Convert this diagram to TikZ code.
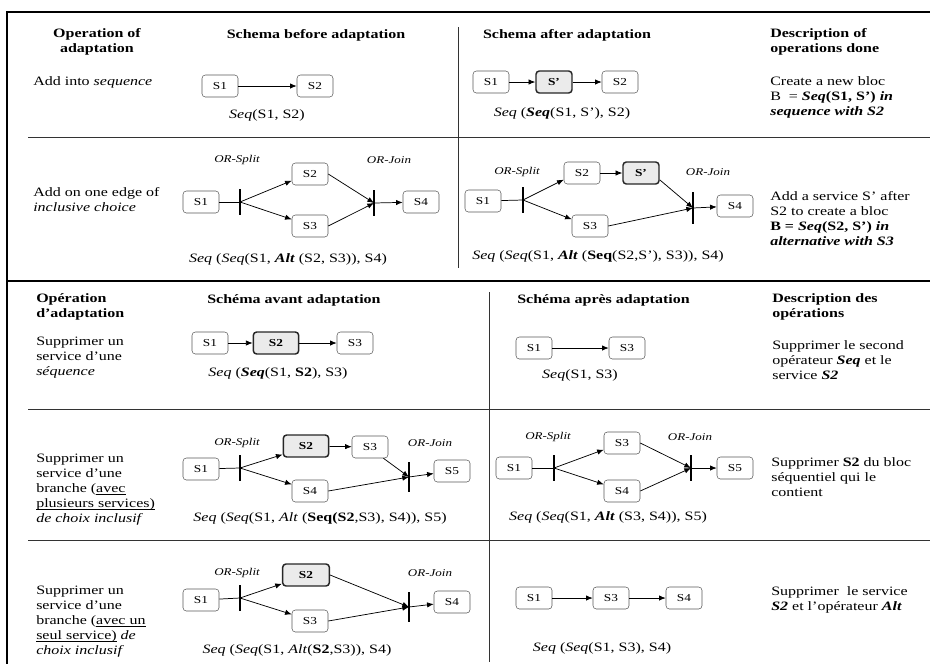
\documentclass[tikz,border=0pt]{standalone}
\usepackage{fontspec}
\setmainfont{Liberation Serif}[FakeStretch=1.25]
\usetikzlibrary{arrows.meta}

\tikzset{
  svc/.style={draw=black!65, rounded corners=2.5pt, minimum width=27pt, minimum height=16.5pt, inner sep=0pt, font=\fontsize{8}{9}\selectfont},
  svcnew/.style={svc, draw=black!85, line width=1.1pt, fill=black!8, font=\fontsize{8}{9}\selectfont\bfseries},
  orbar/.style={fill=black, minimum width=1.8pt, minimum height=19.5pt, inner sep=0pt},
  flow/.style={-{Latex[length=5pt,width=4pt]}, line width=0.55pt},
  link/.style={line width=0.55pt},
  orlbl/.style={inner sep=0pt, font=\fontsize{7.8}{9}\selectfont\itshape},
  txt/.style={anchor=west, align=left, inner sep=0pt, font=\fontsize{9.6}{11.25}\selectfont},
  hd/.style={txt, font=\fontsize{9.6}{11.25}\selectfont\bfseries},
  frm/.style={inner sep=0pt, font=\fontsize{9.6}{11.25}\selectfont},
  sepline/.style={line width=0.6pt, black!80},
  bigline/.style={line width=1.6pt}
}
\newcommand{\ulk}[1]{\underline{\smash{#1}}}

\begin{document}
\begin{tikzpicture}[x=0.75pt,y=-0.75pt]
    \useasboundingbox (0,0) rectangle (930,664);

    % table lines
    \draw[bigline] (7,12) -- (930,12);
    \draw[bigline] (7,11.2) -- (7,664);
    \draw[line width=2.2pt] (7,281) -- (930,281);
    \draw[sepline] (28,137) -- (930,137);
    \draw[sepline] (458,27) -- (458,268);
    \draw[sepline] (489,292) -- (489,662);
    \draw[sepline] (28,409) -- (930,409);
    \draw[sepline] (28,540) -- (930,540);

    % headers (top table)
    \node[hd, anchor=center, align=center] (hop) at (97,42) {Operation of\\adaptation};
    \node[hd, anchor=center] (hbefore) at (316,35) {Schema before adaptation};
    \node[hd, anchor=center] (hafter) at (567,35) {Schema after adaptation};
    \node[hd] (hdesc) at (770,42) {Description of\\operations done};

    % add into sequence
    \node[txt] (opA) at (33,82) {Add into \textit{sequence}};
    \node[svc] (Ab1) at (220,86) {S1};
    \node[svc] (Ab2) at (315,86) {S2};
    \draw[flow] (Ab1) -- (Ab2);
    \node[frm] (fAb) at (267,115) {\textit{Seq}(S1, S2)};
    \node[svc] (Aa1) at (491,82) {S1};
    \node[svcnew] (Aap) at (554,82) {S’};
    \node[svc] (Aa2) at (620,82) {S2};
    \draw[flow] (Aa1) -- (Aap);
    \draw[flow] (Aap) -- (Aa2);
    \node[frm] (fAa) at (562,113) {\textit{Seq} (\textbf{\textit{Seq}}(S1, S’), S2)};
    \node[txt] (dA) at (770,97) {Create a new bloc\\B \ = \textbf{\textit{Seq}(S1, S’) \textit{in}}\\\textbf{\textit{sequence with S2}}};

    % add on one edge of inclusive choice
    \node[txt] (opB) at (33,200) {Add on one edge of\\\textit{inclusive choice}};
    \node[svc] (Bb1) at (201,202) {S1};
    \node[orbar] (Bbs) at (240,202) {};
    \node[svc] (Bb2) at (310,174) {S2};
    \node[svc] (Bb3) at (310,226) {S3};
    \node[orbar] (Bbj) at (374,203) {};
    \node[svc] (Bb4) at (421,202) {S4};
    \node[orlbl] (Bbls) at (237,160) {OR-Split};
    \node[orlbl] (Bblj) at (389,160) {OR-Join};
    \draw[link] (Bb1) -- (Bbs.center);
    \draw[flow] (Bbs.center) -- (Bb2.200);
    \draw[flow] (Bbs.center) -- (Bb3.160);
    \draw[flow] (Bb2.east) -- (Bbj.center);
    \draw[flow] (Bb3.east) -- (Bbj.center);
    \draw[flow] (Bbj.center) -- (Bb4);
    \node[frm] (fBb) at (288,259) {\textit{Seq} (\textit{Seq}(S1, \textbf{\textit{Alt}} (S2, S3)), S4)};

    \node[svc] (Ba1) at (483,201) {S1};
    \node[orbar] (Bas) at (523,200) {};
    \node[svc] (Ba2) at (582,173) {S2};
    \node[svcnew] (Bap) at (641,173) {S’};
    \node[svc] (Ba3) at (590,226) {S3};
    \node[orbar, minimum height=24pt] (Baj) at (693,208) {};
    \node[svc] (Ba4) at (735,206) {S4};
    \node[orlbl] (Bals) at (517,172) {OR-Split};
    \node[orlbl] (Balj) at (708,172) {OR-Join};
    \draw[link] (Ba1) -- (Bas.center);
    \draw[flow] (Bas.center) -- (Ba2.200);
    \draw[flow] (Bas.center) -- (Ba3.160);
    \draw[flow] (Ba2) -- (Bap);
    \draw[flow] (Bap.-20) -- (Baj.center);
    \draw[flow] (Ba3.east) -- (Baj.center);
    \draw[flow] (Baj.center) -- (Ba4);
    \node[frm] (fBa) at (598,256) {\textit{Seq} (\textit{Seq}(S1, \textbf{\textit{Alt}} (\textbf{Seq}(S2,S’), S3)), S4)};
    \node[txt] (dB) at (770,219) {Add a service S’ after\\S2 to create a bloc\\\textbf{B = \textit{Seq}(S2, S’) \textit{in}}\\\textbf{\textit{alternative with S3}}};

    % headers (bottom table)
    \node[hd] (hopfr) at (36,307) {Opération\\d’adaptation};
    \node[hd] (hbeforefr) at (207,300) {Schéma avant adaptation};
    \node[hd] (hafterfr) at (517,300) {Schéma après adaptation};
    \node[hd] (hdescfr) at (772,307) {Description des\\opérations};

    % supprimer un service d'une sequence
    \node[txt] (opC) at (36,358) {Supprimer un\\service d’une\\\textit{séquence}};
    \node[svc] (Cb1) at (210,343) {S1};
    \node[svcnew, minimum width=34pt] (Cb2) at (276,343) {S2};
    \node[svc] (Cb3) at (355,343) {S3};
    \draw[flow] (Cb1) -- (Cb2);
    \draw[flow] (Cb2) -- (Cb3);
    \node[frm] (fCb) at (278,373) {\textit{Seq} (\textbf{\textit{Seq}}(S1, \textbf{S2}), S3)};
    \node[svc] (Ca1) at (534,348) {S1};
    \node[svc] (Ca3) at (627,348) {S3};
    \draw[flow] (Ca1) -- (Ca3);
    \node[frm] (fCa) at (580,375) {\textit{Seq}(S1, S3)};
    \node[txt] (dC) at (772,360) {Supprimer le second\\opérateur \textbf{\textit{Seq}} et le\\service \textbf{\textit{S2}}};

    % branche avec plusieurs services
    \node[txt] (opD) at (36,490) {Supprimer un\\service d’une\\branche (\ulk{avec}\\\ulk{plusieurs services)}\\\textit{de choix inclusif}};
    \node[svc] (Db1) at (201,469) {S1};
    \node[orbar] (Dbs) at (240,468) {};
    \node[svcnew, minimum width=34pt] (Db2) at (306,446) {S2};
    \node[svc] (Db3) at (370,447) {S3};
    \node[svc] (Db4) at (310,491) {S4};
    \node[orbar, minimum height=22pt] (Dbj) at (409,477) {};
    \node[svc] (Db5) at (452,471) {S5};
    \node[orlbl] (Dbls) at (237,443) {OR-Split};
    \node[orlbl] (Dblj) at (430,443) {OR-Join};
    \draw[link] (Db1) -- (Dbs.center);
    \draw[flow] (Dbs.center) -- (Db2.200);
    \draw[flow] (Dbs.center) -- (Db4.160);
    \draw[flow] (Db2) -- (Db3);
    \draw[flow] (Db3.-40) -- (Dbj.center);
    \draw[flow] (Db4.east) -- (Dbj.center);
    \draw[flow] (Dbj.center) -- (Db5);
    \node[frm] (fDb) at (320,518) {\textit{Seq} (\textit{Seq}(S1, \textit{Alt} (\textbf{Seq(S2},S3), S4)), S5)};

    \node[svc] (Da1) at (514,468) {S1};
    \node[orbar] (Das) at (554,468) {};
    \node[svc] (Da3) at (622,443) {S3};
    \node[svc] (Da4) at (622,491) {S4};
    \node[orbar] (Daj) at (691,468) {};
    \node[svc] (Da5) at (735,468) {S5};
    \node[orlbl] (Dals) at (548,437) {OR-Split};
    \node[orlbl] (Dalj) at (690,437) {OR-Join};
    \draw[link] (Da1) -- (Das.center);
    \draw[flow] (Das.center) -- (Da3.200);
    \draw[flow] (Das.center) -- (Da4.160);
    \draw[flow] (Da3.east) -- (Daj.center);
    \draw[flow] (Da4.east) -- (Daj.center);
    \draw[flow] (Daj.center) -- (Da5);
    \node[frm] (fDa) at (608,517) {\textit{Seq} (\textit{Seq}(S1, \textbf{\textit{Alt}} (S3, S4)), S5)};
    \node[txt] (dD) at (771,477) {Supprimer \textbf{S2} du bloc\\séquentiel qui le\\contient};

    % branche avec un seul service
    \node[txt] (opE) at (36,622) {Supprimer un\\service d’une\\branche (\ulk{avec un}\\\ulk{seul service)} \textit{de}\\\textit{choix inclusif}};
    \node[svc] (Eb1) at (201,600) {S1};
    \node[orbar] (Ebs) at (240,598) {};
    \node[svcnew, minimum width=35pt] (Eb2) at (306,575) {S2};
    \node[svc] (Eb3) at (310,621) {S3};
    \node[orbar, minimum height=22pt] (Ebj) at (409,607) {};
    \node[svc] (Eb4) at (452,602) {S4};
    \node[orlbl] (Ebls) at (237,573) {OR-Split};
    \node[orlbl] (Eblj) at (430,573) {OR-Join};
    \draw[link] (Eb1) -- (Ebs.center);
    \draw[flow] (Ebs.center) -- (Eb2.200);
    \draw[flow] (Ebs.center) -- (Eb3.160);
    \draw[flow] (Eb2.east) -- (Ebj.center);
    \draw[flow] (Eb3.east) -- (Ebj.center);
    \draw[flow] (Ebj.center) -- (Eb4);
    \node[frm] (fEb) at (297,650) {\textit{Seq} (\textit{Seq}(S1, \textit{Alt}(\textbf{S2},S3)), S4)};

    \node[svc] (Ea1) at (534,598) {S1};
    \node[svc] (Ea3) at (611,598) {S3};
    \node[svc] (Ea4) at (684,598) {S4};
    \draw[flow] (Ea1) -- (Ea3);
    \draw[flow] (Ea3) -- (Ea4);
    \node[frm] (fEa) at (602,648) {\textit{Seq} (\textit{Seq}(S1, S3), S4)};
    \node[txt] (dE) at (771,600) {Supprimer \ le service\\\textbf{\textit{S2}} et l’opérateur \textbf{\textit{Alt}}};
\end{tikzpicture}
\end{document}
